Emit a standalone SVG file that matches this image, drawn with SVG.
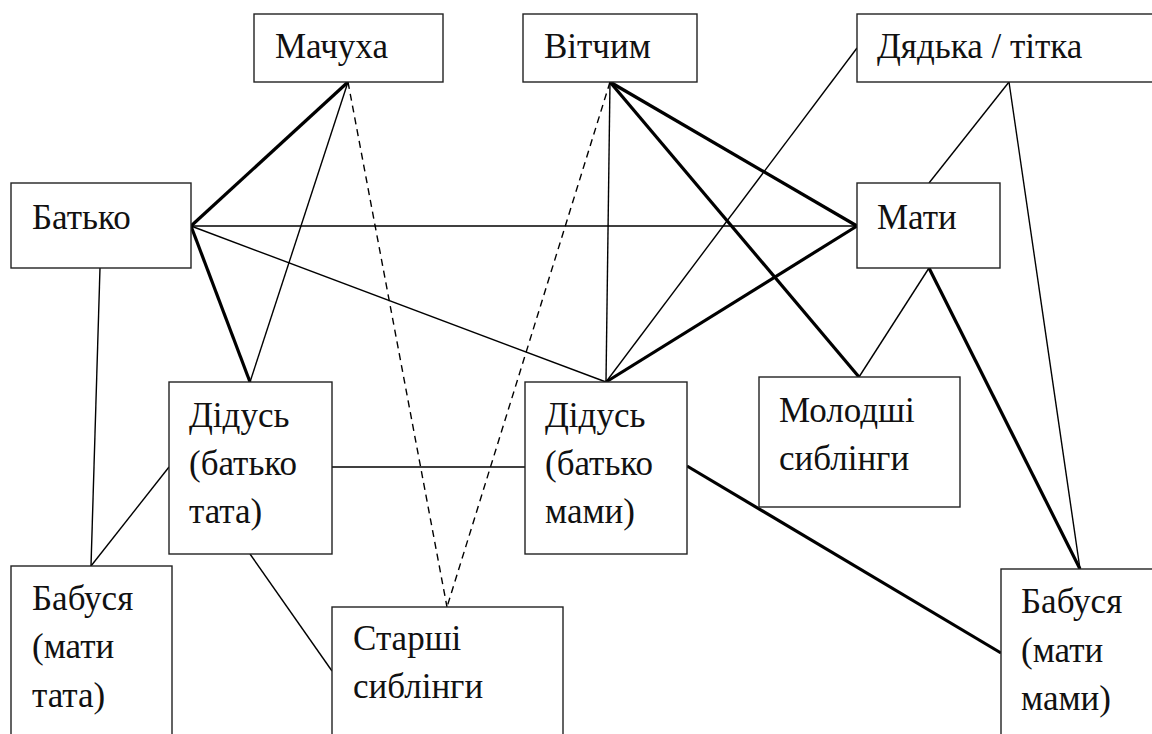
<svg xmlns="http://www.w3.org/2000/svg" width="1152" height="734" viewBox="0 0 1152 734">
  <style>
    .box { fill: #ffffff; stroke: #222222; stroke-width: 1.4; }
    .thin { stroke: #000000; stroke-width: 1.4; fill: none; }
    .thick { stroke: #000000; stroke-width: 3.2; fill: none; }
    .dash { stroke: #000000; stroke-width: 1.4; fill: none; stroke-dasharray: 7 5; }
    .lbl { font-family: 'Liberation Serif', 'Times New Roman', Tinos, 'Noto Serif', FreeSerif, 'DejaVu Serif', serif; font-size: 35px; fill: #111111; }
  </style>
  <rect width="1152" height="734" fill="#ffffff"/>

  <!-- family links -->
  <g id="connectors">
    <line class="thick" x1="191" y1="226" x2="348" y2="82"/>
    <line class="thin" x1="191" y1="226" x2="857" y2="226"/>
    <line class="thick" x1="191" y1="226" x2="250" y2="382"/>
    <line class="thin" x1="191" y1="226" x2="606" y2="382"/>
    <line class="thin" x1="348" y1="82" x2="250" y2="382"/>
    <line class="dash" x1="348" y1="82" x2="447" y2="607"/>
    <line class="dash" x1="610" y1="82" x2="447" y2="607"/>
    <line class="thin" x1="610" y1="82" x2="606" y2="382"/>
    <line class="thick" x1="610" y1="82" x2="857" y2="226"/>
    <line class="thick" x1="610" y1="82" x2="859" y2="377"/>
    <line class="thin" x1="857" y1="48" x2="606" y2="382"/>
    <line class="thin" x1="1009" y1="82" x2="929" y2="183"/>
    <line class="thin" x1="1009" y1="82" x2="1080" y2="569"/>
    <line class="thick" x1="857" y1="226" x2="606" y2="382"/>
    <line class="thin" x1="929" y1="268" x2="859" y2="377"/>
    <line class="thick" x1="929" y1="268" x2="1080" y2="569"/>
    <line class="thick" x1="687" y1="466" x2="1001" y2="653"/>
    <line class="thin" x1="332" y1="467" x2="525" y2="467"/>
    <line class="thin" x1="169" y1="467" x2="91" y2="566"/>
    <line class="thin" x1="100" y1="268" x2="91" y2="566"/>
    <line class="thin" x1="250" y1="554" x2="332" y2="671"/>
  </g>

  <g id="stepmother">
    <rect class="box" x="254" y="14" width="189" height="68"/>
    <text class="lbl" x="275" y="58">Мачуха</text>
  </g>
  <g id="stepfather">
    <rect class="box" x="523" y="14" width="174" height="68"/>
    <text class="lbl" x="544" y="58">Вітчим</text>
  </g>
  <g id="uncle-aunt">
    <rect class="box" x="857" y="14" width="300" height="68"/>
    <text class="lbl" x="877" y="58">Дядька / тітка</text>
  </g>
  <g id="father">
    <rect class="box" x="11" y="183" width="180" height="85"/>
    <text class="lbl" x="32" y="229">Батько</text>
  </g>
  <g id="mother">
    <rect class="box" x="857" y="183" width="143" height="85"/>
    <text class="lbl" x="877" y="229">Мати</text>
  </g>
  <g id="grandfather-paternal">
    <rect class="box" x="169" y="382" width="163" height="172"/>
    <text class="lbl" x="189" y="427">Дідусь</text>
    <text class="lbl" x="189" y="475">(батько</text>
    <text class="lbl" x="189" y="523">тата)</text>
  </g>
  <g id="grandfather-maternal">
    <rect class="box" x="525" y="382" width="162" height="172"/>
    <text class="lbl" x="545" y="427">Дідусь</text>
    <text class="lbl" x="545" y="475">(батько</text>
    <text class="lbl" x="545" y="523">мами)</text>
  </g>
  <g id="younger-siblings">
    <rect class="box" x="759" y="377" width="201" height="130"/>
    <text class="lbl" x="779" y="422">Молодші</text>
    <text class="lbl" x="779" y="470">сиблінги</text>
  </g>
  <g id="grandmother-paternal">
    <rect class="box" x="11" y="566" width="161" height="180"/>
    <text class="lbl" x="32" y="610">Бабуся</text>
    <text class="lbl" x="32" y="658">(мати</text>
    <text class="lbl" x="32" y="707">тата)</text>
  </g>
  <g id="older-siblings">
    <rect class="box" x="332" y="607" width="231" height="140"/>
    <text class="lbl" x="353" y="650">Старші</text>
    <text class="lbl" x="353" y="698">сиблінги</text>
  </g>
  <g id="grandmother-maternal">
    <rect class="box" x="1001" y="569" width="160" height="180"/>
    <text class="lbl" x="1021" y="613">Бабуся</text>
    <text class="lbl" x="1021" y="662">(мати</text>
    <text class="lbl" x="1021" y="710">мами)</text>
  </g>
</svg>
